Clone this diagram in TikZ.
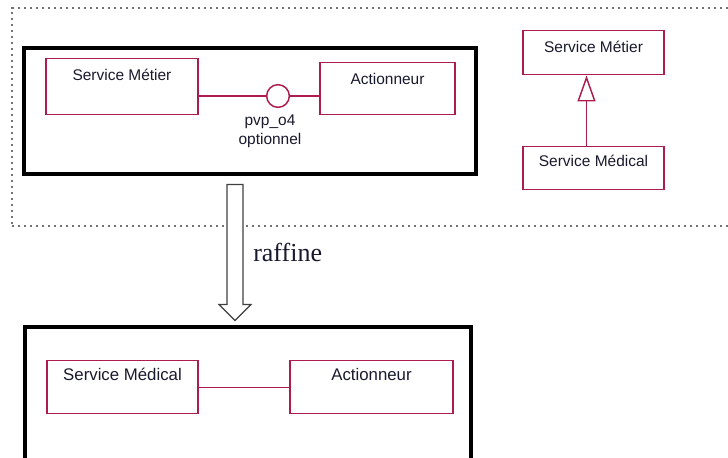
\documentclass[tikz,border=0pt]{standalone}
\usepackage{fontspec}
\setmainfont{Liberation Sans}
\newfontfamily\raffont[Ligatures=CommonOff]{Liberation Serif}
\usetikzlibrary{arrows.meta,calc}
\definecolor{svcred}{RGB}{172,28,78}
\definecolor{ink}{RGB}{25,25,45}

\begin{document}
\begin{tikzpicture}[
    x=0.75pt, y=-0.75pt,
    svc/.style={rectangle, draw=svcred, line width=1.1pt, anchor=north, inner sep=0pt, text=ink, font=\fontsize{11.6}{14}\selectfont},
    frame/.style={rectangle, draw=black, line width=2.3pt, inner sep=0pt},
    zone/.style={rectangle, draw=black!55, line width=1.6pt, dash pattern=on 1.6pt off 2.9pt, anchor=north west, inner sep=0pt},
    link/.style={draw=svcred, line width=1.1pt},
    gen/.style={link, -{Triangle[open, width=13.5pt, length=19.5pt, fill=white]}},
    hollow/.style={draw=black!75, line width=0.9pt, fill=white}
]
    \useasboundingbox (0,0) rectangle (728,457);

    % Dotted zone
    \node[zone, minimum width=546.75pt, minimum height=163.5pt] (zone) at (11,7) {};

    % Upper frame
    \node[frame, minimum width=339pt, minimum height=94.5pt] (upper) at (250,111) {};
    \node[svc, minimum width=114pt, text height=16.2pt, text depth=25.8pt] (um) at (122,58) {Service Métier};
    \node[svc, minimum width=101.25pt, text height=16.2pt, text depth=22.8pt] (ua) at (387.5,62) {Actionneur};
    \node[circle, draw=svcred, line width=1.1pt, fill=white, minimum size=17pt, inner sep=0pt] (iface) at (278,96) {};
    \node[text=ink, font=\fontsize{11.6}{14.25}\selectfont, align=center, anchor=north, inner sep=0pt] (ifacelbl) at (270,115) {pvp\_o4\\optionnel};
    \draw[link] (iface) -- (iface -| um.east);
    \draw[link] (iface) -- (iface -| ua.west);

    % Generalisation
    \node[svc, minimum width=105.75pt, text height=16.6pt, text depth=16.4pt] (rm) at (593.5,30) {Service Métier};
    \node[svc, minimum width=105.75pt, text height=14.7pt, text depth=17.55pt] (rd) at (593.5,146) {Service Médical};
    \draw[gen] ([xshift=-5.25pt]rd.north) -- ([xshift=-5.25pt]rm.south);

    % Lower frame
    \node[frame, minimum width=334.5pt, minimum height=107.25pt] (lower) at (248,398.5) {};
    \node[svc, font=\fontsize{12.6}{15}\selectfont, minimum width=113.25pt, text height=15pt, text depth=24.75pt] (lm) at (122.5,360) {Service Médical};
    \node[svc, font=\fontsize{12.6}{15}\selectfont, minimum width=122.25pt, text height=15pt, text depth=24.75pt] (la) at (371.5,360) {Actionneur};
    \draw[link] (lm) -- (la);

    % Refinement arrow
    \coordinate (rtop) at ($(upper.south)+(-15,9)$);
    \coordinate (rtip) at ($(lower.north)+(-13,-5)$);
    \draw[hollow] ($(rtop)+(-8,0)$) -- ($(rtop)+(8,0)$) -- ($(rtip)+(8,-16)$) -- ($(rtip)+(16,-16)$)
        -- (rtip) -- ($(rtip)+(-16,-16)$) -- ($(rtip)+(-8,-16)$) -- cycle;
    \node[text=ink, font=\raffont\fontsize{19.5}{22}\selectfont, anchor=base west, inner sep=0pt] (raff) at (253,261) {raffine};
\end{tikzpicture}
\end{document}
